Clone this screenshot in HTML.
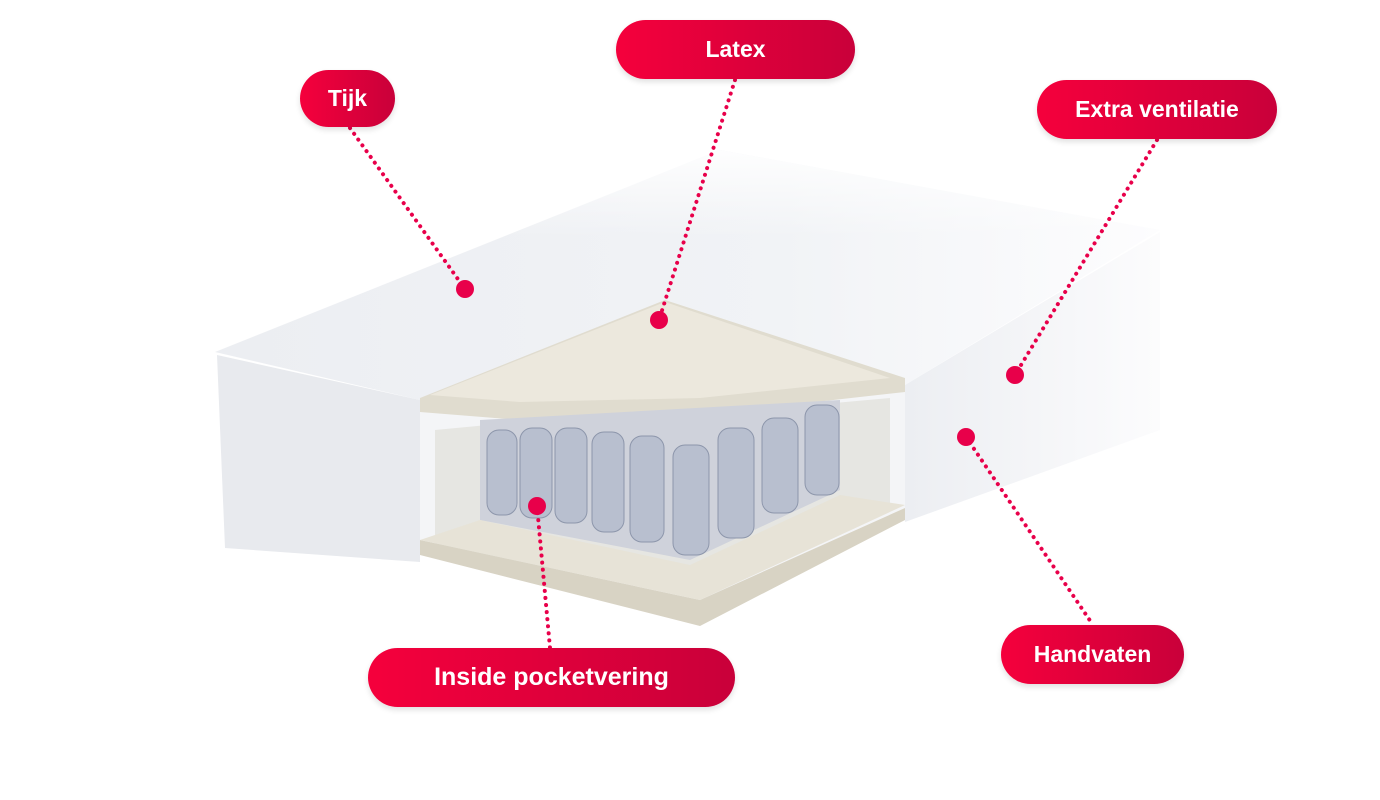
<!DOCTYPE html>
<html><head><meta charset="utf-8"><style>
html,body{margin:0;padding:0;background:#fff;}
body{width:1380px;height:800px;position:relative;overflow:hidden;font-family:"Liberation Sans",sans-serif;}
.pill{position:absolute;border-radius:30px;background:linear-gradient(90deg,#f5003c,#c9003a);color:#fff;font-weight:bold;font-size:23px;display:flex;align-items:center;justify-content:center;box-shadow:0 3px 6px rgba(0,0,0,.12);}
svg{position:absolute;left:0;top:0;}
</style></head><body>
<svg width="1380" height="800" viewBox="0 0 1380 800">
<defs>
<linearGradient id="fadeR" x1="0" x2="1" y1="0" y2="0"><stop offset="0" stop-color="#eceef2"/><stop offset="0.6" stop-color="#f1f3f6"/><stop offset="1" stop-color="#fdfdfe"/></linearGradient>
<linearGradient id="fadeT" x1="0" x2="0" y1="0" y2="1"><stop offset="0" stop-color="#fff" stop-opacity="0.9"/><stop offset="0.35" stop-color="#fff" stop-opacity="0"/></linearGradient>
<linearGradient id="side" x1="0" x2="1"><stop offset="0" stop-color="#eceef2"/><stop offset="1" stop-color="#fcfcfd"/></linearGradient>
</defs>
<polygon points="215,352 720,150 1160,230 905,385 420,400" fill="url(#fadeR)"/>
<polygon points="215,352 720,150 1160,230 905,385 420,400" fill="url(#fadeT)"/>
<polygon points="217,355 420,400 420,562 225,548" fill="#e8eaee"/>
<polygon points="905,385 1160,232 1160,430 905,522" fill="url(#side)"/>
<polygon points="420,400 665,300 905,380 905,515 700,610 420,540" fill="#f4f5f7"/>
<polygon points="420,398 665,300 905,378 905,392 700,415 520,420 420,412" fill="#e0dccf"/>
<polygon points="430,395 665,302 890,378 700,398 520,402" fill="#ece8dd"/>
<polygon points="435,430 520,422 700,415 890,398 890,508 700,598 435,545" fill="#e6e6e2"/>
<polygon points="480,420 840,400 840,490 690,560 480,520" fill="#cfd2db"/>
<g fill="#b8bfcf" stroke="#8d96ab" stroke-width="1">
<rect x="487" y="430" width="30" height="85" rx="12"/><rect x="520" y="428" width="32" height="90" rx="12"/>
<rect x="555" y="428" width="32" height="95" rx="12"/><rect x="592" y="432" width="32" height="100" rx="12"/>
<rect x="630" y="436" width="34" height="106" rx="12"/><rect x="673" y="445" width="36" height="110" rx="12"/>
<rect x="718" y="428" width="36" height="110" rx="12"/><rect x="762" y="418" width="36" height="95" rx="12"/>
<rect x="805" y="405" width="34" height="90" rx="12"/>
</g>
<polygon points="420,540 700,600 905,508 905,520 700,626 420,555" fill="#d8d3c4"/>
<polygon points="420,540 480,520 690,565 840,495 905,505 700,600" fill="#e7e3d7"/>
<g stroke="#e8004a" stroke-width="4" stroke-dasharray="0.1,7" stroke-linecap="round" fill="none">
<line x1="350" y1="128" x2="465" y2="289"/>
<line x1="735" y1="80" x2="659" y2="320"/>
<line x1="1157" y1="140" x2="1015" y2="375"/>
<line x1="966" y1="437" x2="1093" y2="625"/>
<line x1="537" y1="506" x2="550" y2="648"/>
</g>
<g fill="#e8004a">
<circle cx="465" cy="289" r="9"/><circle cx="659" cy="320" r="9"/><circle cx="1015" cy="375" r="9"/>
<circle cx="966" cy="437" r="9"/><circle cx="537" cy="506" r="9"/>
</g>
</svg>
<div class="pill" style="left:300px;top:70px;width:95px;height:57px;">Tijk</div>
<div class="pill" style="left:616px;top:20px;width:239px;height:59px;">Latex</div>
<div class="pill" style="left:1037px;top:80px;width:240px;height:59px;">Extra ventilatie</div>
<div class="pill" style="left:368px;top:648px;width:367px;height:59px;font-size:25px;">Inside pocketvering</div>
<div class="pill" style="left:1001px;top:625px;width:183px;height:59px;">Handvaten</div>
</body></html>
